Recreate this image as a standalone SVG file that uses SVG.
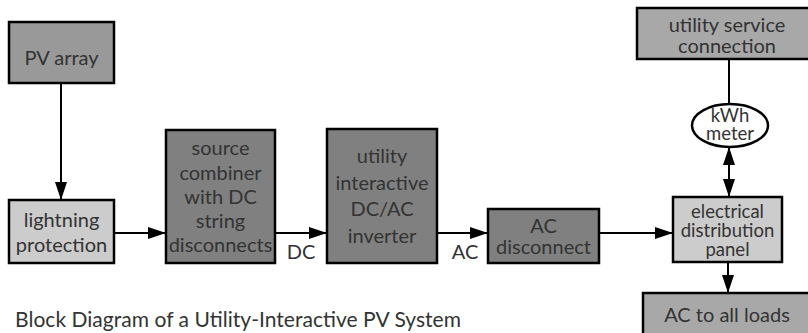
<svg xmlns="http://www.w3.org/2000/svg" width="808" height="333" viewBox="0 0 808 333">
<defs>
<marker id="ah" markerUnits="userSpaceOnUse" markerWidth="20" markerHeight="14" refX="18" refY="7" orient="auto-start-reverse" viewBox="0 0 20 14">
<path d="M0,1 L18,7 L0,13 Z" fill="#000"/>
</marker>
</defs>
<style>
text{font-family:Lato,"Open Sans","DejaVu Sans",sans-serif;font-size:20px;fill:#333;text-anchor:middle}
.box{stroke:#000;stroke-width:2.5}
.mid{fill:#999}
.dark{fill:#808080}
.light{fill:#ccc}
.pale{fill:#a8a8a8}
.conn line{stroke:#000;stroke-width:2;fill:none}
.cap{text-anchor:start;font-size:21px}
.tight{font-size:18.5px}
</style>
<rect width="808" height="333" fill="#fff"/>
<g class="conn">
<line x1="61" y1="83" x2="61" y2="200" marker-end="url(#ah)"/>
<line x1="114" y1="233" x2="166" y2="233" marker-end="url(#ah)"/>
<line x1="275" y1="233" x2="327" y2="233" marker-end="url(#ah)"/>
<line x1="437" y1="233" x2="488" y2="233" marker-end="url(#ah)"/>
<line x1="599" y1="233" x2="673" y2="233" marker-end="url(#ah)"/>
<line x1="729" y1="59" x2="729" y2="104"/>
<line x1="729" y1="147" x2="729" y2="197" marker-start="url(#ah)" marker-end="url(#ah)"/>
<line x1="728" y1="262" x2="728" y2="293" marker-end="url(#ah)"/>
<text x="301" y="259">DC</text>
<text x="465" y="259">AC</text>
</g>
<g id="pv-array">
<rect class="box mid" x="9" y="22" width="105" height="61"/>
<text x="61.5" y="65">PV array</text>
</g>
<g id="lightning">
<rect class="box light" x="9" y="200" width="105" height="63"/>
<text x="61.5" y="227">lightning</text>
<text x="61.5" y="252">protection</text>
</g>
<g id="combiner">
<rect class="box dark" x="166" y="130" width="109" height="133"/>
<text x="220.5" y="155">source</text>
<text x="220.5" y="180">combiner</text>
<text x="220.5" y="204">with DC</text>
<text x="220.5" y="228">string</text>
<text x="220.5" y="252">disconnects</text>
</g>
<g id="inverter">
<rect class="box dark" x="327" y="129" width="110" height="134"/>
<text x="382" y="163">utility</text>
<text x="382" y="190">interactive</text>
<text x="382" y="216">DC/AC</text>
<text x="382" y="243">inverter</text>
</g>
<g id="ac-disconnect">
<rect class="box dark" x="488" y="209" width="111" height="54"/>
<text x="543.5" y="233">AC</text>
<text x="543.5" y="254">disconnect</text>
</g>
<g id="utility-service">
<rect class="box pale" x="637" y="8" width="180" height="51"/>
<text x="727" y="32">utility service</text>
<text x="727" y="53">connection</text>
</g>
<g id="kwh-meter">
<ellipse cx="730" cy="125.5" rx="38" ry="21.5" fill="#fff" stroke="#000" stroke-width="2.5"/>
<text class="tight" x="730" y="122">kWh</text>
<text class="tight" x="730" y="140">meter</text>
</g>
<g id="panel">
<rect class="box light" x="673" y="197" width="109" height="65"/>
<text class="tight" x="727.5" y="218">electrical</text>
<text class="tight" x="727.5" y="237">distribution</text>
<text class="tight" x="727.5" y="256">panel</text>
</g>
<g id="ac-loads">
<rect class="box pale" x="643" y="293" width="180" height="60"/>
<text x="727" y="322">AC to all loads</text>
</g>
<text class="cap" x="15" y="327" textLength="446" lengthAdjust="spacing">Block Diagram of a Utility-Interactive PV System</text>
</svg>
